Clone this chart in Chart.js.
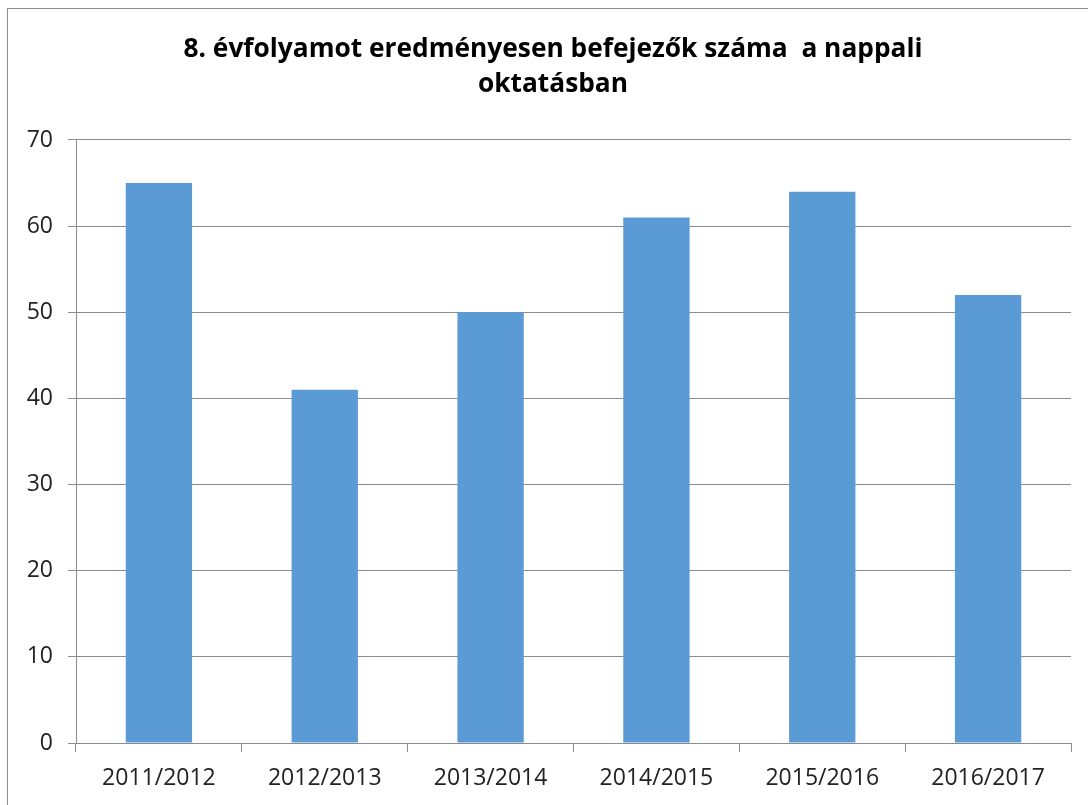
<!DOCTYPE html>
<html>
<head>
<meta charset="utf-8">
<script src="https://cdn.jsdelivr.net/npm/chart.js@4/dist/chart.umd.min.js"></script>
<style>
html,body{margin:0;padding:0;background:#fff;}
#wrap{position:absolute;left:0;top:0;width:1088px;height:805px;}
</style>
</head>
<body>
<div id="wrap"><canvas id="c" width="1088" height="805"></canvas></div>
<script>
const categories = ["2011/2012","2012/2013","2013/2014","2014/2015","2015/2016","2016/2017"];
const values = [65, 41, 50, 61, 64, 52];
const titleLines = ["8. évfolyamot eredményesen befejezők száma  a nappali", "oktatásban"];
const yMin = 0, yMax = 70, yStep = 10;

const borderPlugin = {
  id: 'frame',
  beforeDraw(chart) {
    const ctx = chart.ctx;
    ctx.save();
    ctx.fillStyle = '#fff';
    ctx.fillRect(0, 0, chart.width, chart.height);
    ctx.strokeStyle = '#8c8c8c';
    ctx.lineWidth = 1;
    ctx.strokeRect(7.5, 8.5, chart.width + 20, chart.height + 20);
    ctx.restore();
  }
};

new Chart(document.getElementById('c'), {
  type: 'bar',
  data: {
    labels: categories,
    datasets: [{
      data: values,
      backgroundColor: '#5b9bd5',
      barPercentage: 0.4,
      categoryPercentage: 1.0
    }]
  },
  options: {
    responsive: false,
    animation: false,
    events: [],
    layout: { padding: { left: 18, right: 0, top: 0, bottom: 0 } },
    plugins: {
      legend: { display: false },
      tooltip: { enabled: false },
      title: {
        display: true,
        text: titleLines,
        color: '#000',
        font: { family: 'Open Sans', size: 26.3, weight: 'bold', lineHeight: 1.33 },
        padding: { top: 32, bottom: 38 }
      }
    },
    scales: {
      x: {
        grid: { display: true, drawOnChartArea: false, color: '#8c8c8c', tickLength: 9, offset: true },
        border: { color: '#8c8c8c' },
        ticks: { color: '#222', font: { family: 'Open Sans', size: 23 }, padding: 13, maxRotation: 0 },
        afterFit(s) { s.height = 62; }
      },
      y: {
        min: yMin, max: yMax,
        ticks: { stepSize: yStep, color: '#222', font: { family: 'Open Sans', size: 23 }, padding: 15 },
        grid: { color: '#8c8c8c', tickLength: 8 },
        border: { color: '#8c8c8c' },
        afterFit(s) { s.width = 58; }
      },
      yRight: {
        position: 'right',
        min: yMin, max: yMax,
        ticks: { display: false },
        grid: { display: false },
        border: { display: false },
        afterFit(s) { s.width = 17; }
      }
    }
  },
  plugins: [borderPlugin]
});
</script>
</body>
</html>
